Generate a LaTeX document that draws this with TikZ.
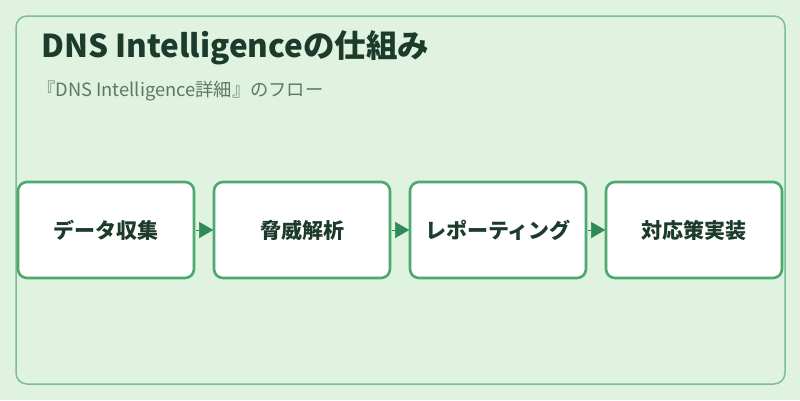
\documentclass[tikz,border=0pt]{standalone}
\usepackage{fontspec}
\setmainfont{Noto Sans CJK JP}
\usetikzlibrary{arrows.meta}
\definecolor{bgc}{HTML}{E0F2E0}
\definecolor{framec}{HTML}{7DBF94}
\definecolor{boxc}{HTML}{4CAA6C}
\definecolor{arrc}{HTML}{2E8B57}
\definecolor{txtc}{HTML}{1D3B2C}
\definecolor{subc}{HTML}{5A7A66}
\tikzset{
  stepbox/.style={draw=boxc, line width=2.6pt, fill=white, rounded corners=9pt,
    minimum width=176pt, minimum height=96pt, inner sep=0pt,
    font=\fontsize{21}{24}\selectfont\bfseries, text=txtc},
  flow/.style={draw=arrc, line width=0.5pt, -{Triangle[length=14pt,width=16pt]}, color=arrc, shorten <=0.5pt, shorten >=-0.5pt}
}
\begin{document}
\begin{tikzpicture}[x=1pt,y=-1pt]
\useasboundingbox (0,0) rectangle (800,400);
\fill[bgc] (0,0) rectangle (800,400);
\draw[framec, line width=1.5pt, rounded corners=11pt] (16,16) rectangle (785,384);
\node[anchor=base west, inner sep=0pt, text=txtc, font=\fontsize{31.5}{36}\selectfont\bfseries] (title) at (41,57) {DNS Intelligenceの仕組み};
\node[anchor=base west, inner sep=0pt, text=subc, font=\fontsize{18.3}{21}\selectfont] (sub) at (37,96) {『DNS Intelligence詳細』のフロー};
\node[stepbox] (b1) at (106,230) {データ収集};
\node[stepbox] (b2) at (302,230) {脅威解析};
\node[stepbox] (b3) at (498,230) {レポーティング};
\node[stepbox] (b4) at (694,230) {対応策実装};
\draw[flow] (b1) -- (b2);
\draw[flow] (b2) -- (b3);
\draw[flow] (b3) -- (b4);
\end{tikzpicture}
\end{document}
